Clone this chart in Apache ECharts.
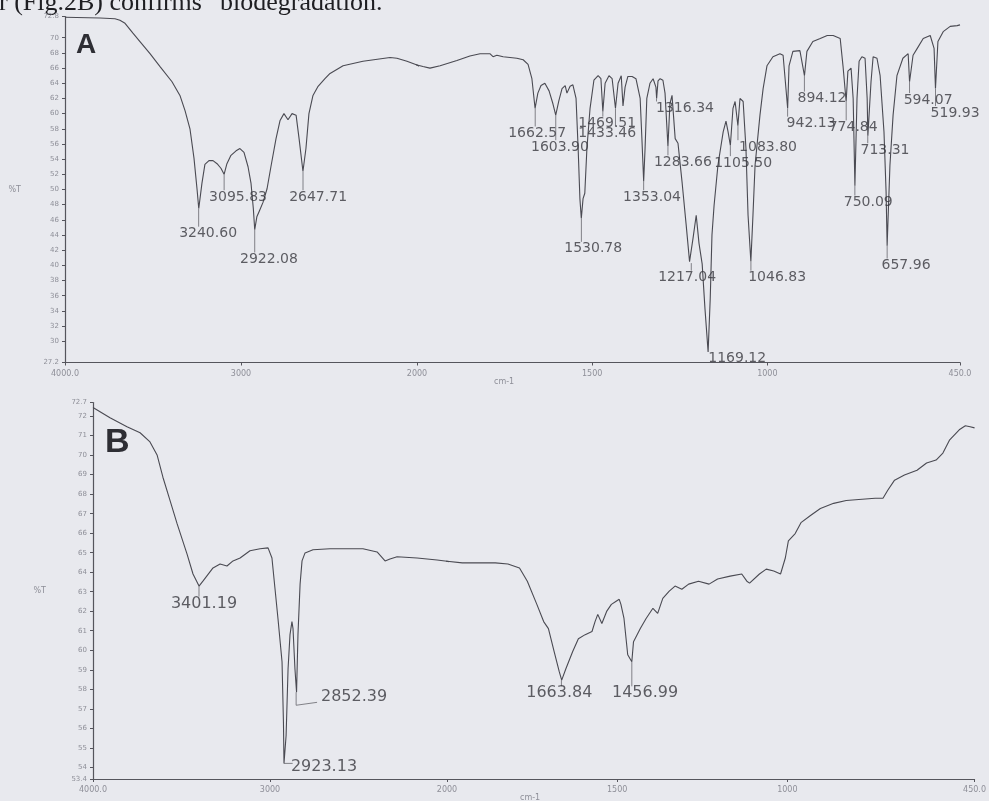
<!DOCTYPE html>
<html><head><meta charset="utf-8">
<script src="https://cdn.jsdelivr.net/npm/echarts@6/dist/echarts.min.js"></script>
<style>html,body{margin:0;padding:0;background:#e8e9ee;overflow:hidden}#c{width:989px;height:801px}</style>
</head><body><div id="c"></div>
<script>
// ---------- Panel A spectrum (wavenumber cm-1, %T) ----------
const wnA = [4000,3801,3716,3688,3659,3614,3574,3517,3460,3392,3347,3318,3290,3267,3250,3240,3222,3205,3182,3159,3136,3114,3096,3080,3057,3028,3006,2983,2960,2943,2930,2922,2910,2895,2875,2852,2830,2801,2778,2756,2733,2710,2687,2670,2648,2631,2614,2591,2562,2523,2494,2420,2307,2153,2114,2057,2000,1983,1963,1934,1886,1849,1820,1792,1783,1772,1754,1715,1697,1683,1672,1663,1655,1646,1635,1623,1612,1604,1595,1586,1577,1572,1563,1555,1546,1540,1535,1531,1526,1521,1515,1506,1495,1483,1475,1469.5,1463,1452,1443,1433.5,1426,1417,1412,1406,1398,1386,1375,1363,1358,1353,1349,1344,1335,1326,1318,1316,1312,1306,1298,1292,1283.7,1278,1272,1263,1255,1243,1232,1222,1217,1212,1203,1195,1186,1178,1169,1163,1158,1152,1141,1126,1118,1112,1105.5,1098,1092,1084,1078,1069,1061,1055,1047,1041,1035,1021,1012,1001,984,964,955,942,938,927,907,894,887,870,849,829,812,792,784,775,770,761,755,750,744,738,730,721,715,713,704,698,687,678,667,661,658,650,641,630,613,598,594,584,572,555,535,524,520,513,498,478,458,450];
const tA  = [72.7,72.6,72.5,72.3,71.9,70.6,69.5,67.9,66.2,64.2,62.4,60.4,58.0,54.1,50.1,47.5,50.8,53.3,53.8,53.8,53.4,52.8,52.0,53.4,54.5,55.1,55.4,54.9,53.0,50.8,47.5,44.7,46.4,47.2,48.3,50.1,53.0,56.7,59.1,60.0,59.2,60.0,59.8,56.7,52.4,55.4,60.0,62.4,63.6,64.6,65.3,66.3,66.9,67.4,67.3,66.9,66.4,66.2,66.0,66.3,67.0,67.6,67.9,67.9,67.5,67.7,67.5,67.3,67.1,66.5,64.6,60.7,62.7,63.7,64.0,63.0,61.3,59.8,61.7,63.3,63.7,62.7,63.6,63.8,62.0,55.4,48.8,46.2,48.8,49.5,55.4,60.7,64.4,65.0,64.6,60.3,64.0,65.0,64.6,60.7,64.0,65.0,61.0,63.5,64.9,64.9,64.6,62.0,56.7,51.1,55.4,62.0,64.0,64.6,63.5,62.0,64.3,64.6,64.4,62.7,55.7,61.3,62.4,56.7,56.1,50.8,45.5,40.5,40.3,43.6,46.6,42.9,40.2,34.3,28.6,35.6,44.0,47.9,53.2,57.6,59.0,57.6,55.8,60.7,61.6,58.4,62.0,61.6,55.4,46.6,40.5,46.6,53.2,59.8,63.3,66.3,67.5,67.9,67.7,60.7,66.3,68.2,68.3,65.0,68.2,69.5,69.9,70.3,70.3,69.9,66.3,61.6,65.6,66.0,62.0,50.5,62.0,66.9,67.5,67.3,62.0,57.1,64.2,67.5,67.3,65.0,57.6,49.7,42.6,53.2,59.8,65.0,67.3,67.9,64.2,67.7,68.6,69.9,70.3,68.6,63.3,69.5,70.8,71.5,71.6,71.7];

// Panel A peak annotations
const peakWnA = [3240.60,3095.83,2922.08,2647.71,1662.57,1603.90,1530.78,1469.51,1433.46,1353.04,1316.34,1283.66,1217.04,1169.12,1105.50,1083.80,1046.83,942.13,894.12,774.84,750.09,713.31,657.96,594.07,519.93];
const labelWnA = [3187,3017,2841,2562,1657,1592,1497,1457,1457,1329,1235,1241,1229,1086,1069,998,972,875,844,755,712,664,604,541,464];
const labelTA  = [44.2,49.0,40.8,49.0,57.4,55.6,42.2,58.7,57.4,49.0,60.7,53.6,38.4,27.7,53.5,55.6,38.4,58.7,62.0,58.2,48.3,55.2,40.0,61.8,60.1];

// ---------- Panel B spectrum ----------
const wnB = [4000,3904,3808,3734,3678,3638,3605,3565,3525,3469,3435,3401,3379,3322,3282,3243,3209,3169,3113,3056,3011,2989,2972,2955,2932,2924,2921,2909,2898,2887,2876,2870,2859,2850,2842,2830,2819,2802,2757,2661,2475,2395,2350,2322,2282,2169,2056,2000,1955,1858,1821,1787,1764,1736,1716,1702,1685,1670,1663,1651,1631,1614,1594,1574,1565,1557,1545,1531,1517,1503,1494,1489,1480,1469,1457,1452,1432,1415,1395,1381,1366,1347,1330,1310,1290,1261,1230,1205,1168,1134,1119,1111,1082,1062,1040,1020,1006,997,977,960,932,903,864,827,790,742,719,705,685,656,619,591,563,543,523,495,477,463,450];
const tB  = [72.44,71.92,71.46,71.15,70.68,70.01,68.87,67.68,66.49,64.94,63.91,63.29,63.54,64.22,64.42,64.32,64.58,64.73,65.10,65.20,65.25,64.73,63.18,61.63,59.41,56.30,54.20,55.63,59.04,60.80,61.47,61.11,59.04,57.85,60.80,63.39,64.58,64.99,65.15,65.20,65.20,65.04,64.58,64.68,64.79,64.73,64.63,64.56,64.48,64.48,64.42,64.22,63.54,62.35,61.47,61.11,59.92,58.89,58.47,59.04,59.92,60.59,60.80,60.96,61.47,61.84,61.37,61.99,62.35,62.51,62.61,62.35,61.63,59.77,59.41,60.44,61.11,61.63,62.15,61.89,62.66,63.03,63.29,63.13,63.39,63.54,63.39,63.65,63.80,63.91,63.54,63.44,63.91,64.16,64.06,63.91,64.73,65.61,65.98,66.54,66.91,67.27,67.53,67.68,67.73,67.79,67.79,68.20,68.72,68.98,69.23,69.60,69.75,70.11,70.79,71.30,71.51,71.46,71.40];

const peakWnB  = [3401.19,2923.13,2852.39,1663.84,1456.99];
const labelWnB = [3373,2695,2525,1670,1418];
const labelTB  = [62.4,54.0,57.6,57.8,57.8];
// leader paths for panel B labels (data units)
const leaderB = [
  [[3401.19,63.29],[3401.19,62.75]],
  [[2921,54.2],[2872,54.2]],
  [[2852.39,57.85],[2852.39,57.18],[2734,57.33]],
  [[1663.84,58.47],[1663.84,58.15]],
  [[1456.99,59.41],[1456.99,58.15]]
];

// ---------- Axis ticks ----------
const xTickVals = [4000,3000,2000,1500,1000,450];
const xTickText = ['4000.0','3000','2000','1500','1000','450.0'];
const yTicksA = [27.2,30,32,34,36,38,40,42,44,46,48,50,52,54,56,58,60,62,64,66,68,70,72.8];
const yTicksB = [53.4,54,55,56,57,58,59,60,61,62,63,64,65,66,67,68,69,70,71,72,72.7];

// ---------- build ----------
const pairs = (w,t) => w.map((v,i)=>[v,t[i]]);
const specA = pairs(wnA,tA), specB = pairs(wnB,tB);
const nearestT = (spec, wn) => { let b=spec[0]; for (const p of spec) if (Math.abs(p[0]-wn)<Math.abs(b[0]-wn)) b=p; return b[1]; };
const fmtX = v => { const i = xTickVals.indexOf(v); return i>=0 ? xTickText[i] : ''; };
const fmtY = v => String(v);

const lineCol = '#4a4a52', axisCol = '#55555c', tickLblCol = '#8e8f98', peakCol = '#38383e';

const grids = [
  {left:65, top:16.5, width:352, height:346},
  {left:417, top:16.5, width:543, height:346},
  {left:93, top:402.5, width:354, height:376.5},
  {left:447, top:402.5, width:546, height:376.5}
];
const xRanges = [[2000,4000],[450,2000],[2000,4000],[450,2000]];
const xTicksPer = [[4000,3000],[2000,1500,1000,450],[4000,3000],[2000,1500,1000,450]];
const yRanges = [[27.2,72.8],[27.2,72.8],[53.4,72.7],[53.4,72.7]];

const xAxis = grids.map((g,i)=>({
  type:'value', gridIndex:i, inverse:true, min:xRanges[i][0], max:xRanges[i][1],
  axisLine:{show:true, onZero:false, lineStyle:{color:axisCol,width:1.2}},
  axisTick:{show:true, customValues:xTicksPer[i], length:3, lineStyle:{color:axisCol}},
  axisLabel:{show:true, customValues:xTicksPer[i], formatter:fmtX, fontSize:8, color:tickLblCol, margin:7, fontFamily:'DejaVu Sans'},
  splitLine:{show:false}
}));
const yAxis = grids.map((g,i)=>{
  const left = (i%2===0);
  const ticks = i<2 ? yTicksA : yTicksB;
  return {
    type:'value', gridIndex:i, min:yRanges[i][0], max:yRanges[i][1], show:left,
    name:'%T', nameLocation:'middle', nameGap: i<2 ? 44 : 47, nameRotate:0,
    nameTextStyle:{fontSize:8, color:tickLblCol, fontFamily:'DejaVu Sans'},
    axisLine:{show:true, lineStyle:{color:axisCol,width:1.2}},
    axisTick:{show:true, customValues:ticks, length:3, lineStyle:{color:axisCol}},
    axisLabel:{show:true, customValues:ticks, formatter:fmtY, fontSize:7, color:tickLblCol, margin:6, fontFamily:'DejaVu Sans'},
    splitLine:{show:false}
  };
});

const series = [];
[[specA,0],[specA,1],[specB,2],[specB,3]].forEach(([d,i])=>{
  series.push({type:'line', xAxisIndex:i, yAxisIndex:i, data:d, showSymbol:false, clip:true,
    lineStyle:{color:lineCol, width:1.1}, silent:true, animation:false, z:3});
});

function labelSeries(wns, ts, texts, gridL, gridR, size){
  const L=[], R=[];
  wns.forEach((w,k)=>{ (w>=2000?L:R).push({value:[w,ts[k]], name:texts[k]}); });
  const mk = (data,i)=>({type:'scatter', xAxisIndex:i, yAxisIndex:i, data, symbolSize:0, clip:false, silent:true, animation:false, z:5,
    label:{show:true, position:'inside', formatter:p=>p.name, color:peakCol, fontSize:size, fontFamily:'DejaVu Sans'}});
  series.push(mk(L,gridL), mk(R,gridR));
}
labelSeries(labelWnA, labelTA, peakWnA.map(v=>v.toFixed(2)), 0, 1, 14);
labelSeries(labelWnB, labelTB, peakWnB.map(v=>v.toFixed(2)), 2, 3, 16);

// Leaders panel A: vertical from peak minimum down to label top
const leadA_L=[], leadA_R=[];
peakWnA.forEach((w,k)=>{
  const tMin = nearestT(specA, w), end = labelTA[k] + 0.9;
  if (tMin > end) (w>=2000?leadA_L:leadA_R).push({coords:[[w,tMin],[w,end]]});
});
const leadB_L=[], leadB_R=[];
leaderB.forEach(path=>{ (path[0][0]>=2000?leadB_L:leadB_R).push({coords:path}); });
[[leadA_L,0],[leadA_R,1],[leadB_L,2],[leadB_R,3]].forEach(([d,i])=>{
  series.push({type:'lines', coordinateSystem:'cartesian2d', xAxisIndex:i, yAxisIndex:i, polyline:true, data:d,
    lineStyle:{color:'#66666c', width:0.8, opacity:1}, silent:true, animation:false, z:4});
});

const chart = echarts.init(document.getElementById('c'), null, {renderer:'canvas'});
chart.setOption({
  backgroundColor:'#e8e9ee',
  animation:false,
  grid:grids,
  xAxis, yAxis, series,
  graphic:[
    {type:'text', left:-1, top:-10, style:{text:'r (Fig.2B) confirms \u201Cbiodegradation.', font:'26px "Liberation Serif"', fill:'#1e1e22'}},
    {type:'text', left:76, top:31, style:{text:'A', font:'bold 28px "Liberation Sans"', fill:'#2e2e34'}},
    {type:'text', left:105, top:426, style:{text:'B', font:'bold 34px "Liberation Sans"', fill:'#2e2e34'}},
    {type:'text', left:494, top:378, style:{text:'cm-1', font:'8px "DejaVu Sans"', fill:tickLblCol}},
    {type:'text', left:520, top:794, style:{text:'cm-1', font:'8px "DejaVu Sans"', fill:tickLblCol}}
  ]
});
</script></body></html>
